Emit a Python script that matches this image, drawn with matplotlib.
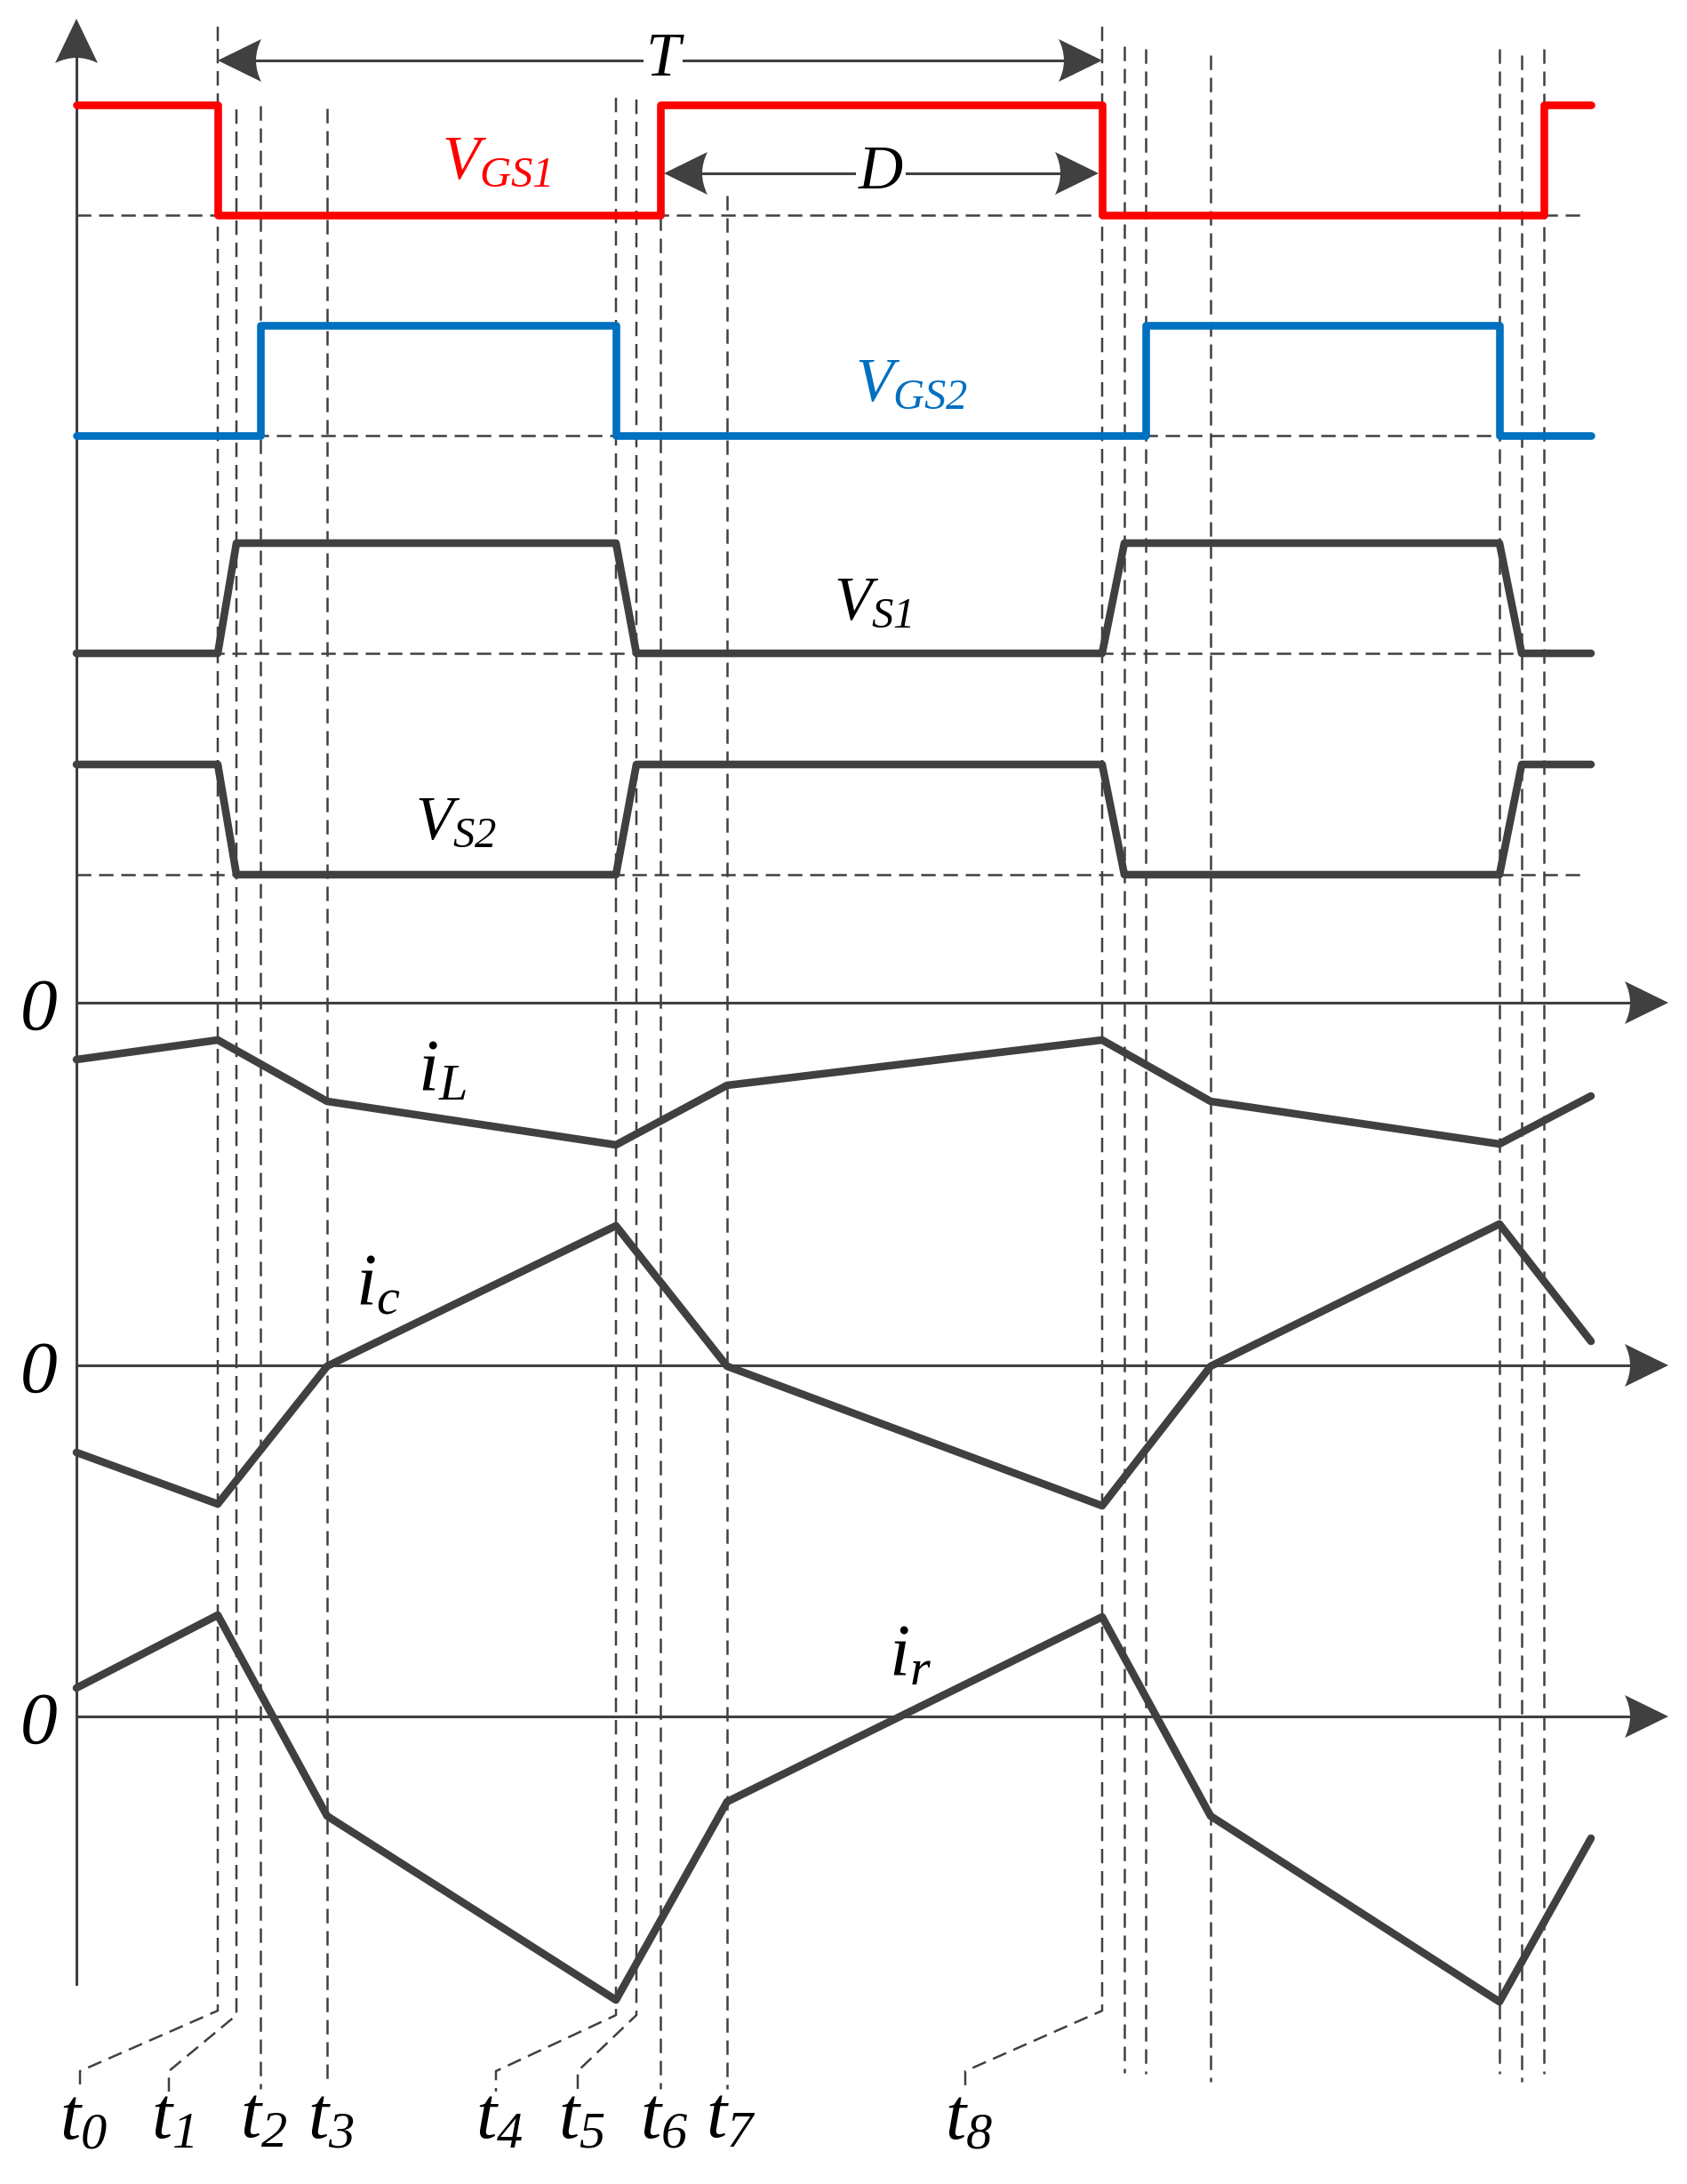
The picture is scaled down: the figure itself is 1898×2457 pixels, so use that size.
import numpy as np
import matplotlib.pyplot as plt
from matplotlib.path import Path
from matplotlib.patches import PathPatch

plt.rcParams['font.family'] = ['Liberation Serif', 'DejaVu Serif']
plt.rcParams['font.style'] = 'italic'
plt.rcParams['mathtext.fontset'] = 'custom'
plt.rcParams['mathtext.it'] = 'Liberation Serif:italic'
plt.rcParams['mathtext.rm'] = 'Liberation Serif:italic'

W, H = 1899, 2457
GREY = '#404040'
RED = '#ff0000'
BLUE = '#0070c0'

# time instants (x in pixel units), t0..t8 and the repeats in the next period
guide_x = [245, 266, 293, 368, 693, 716, 743, 818, 1240, 1265, 1289, 1362, 1687, 1712, 1737]
guide_top = [30, 123, 119, 122, 110, 112, 243, 220, 30, 52, 55, 62, 55, 62, 55]
guide_bottom = [2262, 2267, 2350, 2347, 2267, 2267, 2350, 2350, 2262, 2332, 2333, 2342, 2333, 2342, 2333]
# foot of leader for labels t0..t8 (first 9 guides)
label_x = [90, 190, 293, 368, 558, 650, 743, 818, 1086]
label_names = [r'$t_0$', r'$t_1$', r'$t_2$', r'$t_3$', r'$t_4$', r'$t_5$', r'$t_6$', r'$t_7$', r'$t_8$']

# gate / switch voltages
vgs1_x = [86, 245, 245, 743, 743, 1240, 1240, 1737, 1737, 1790]
vgs1_y = [118, 118, 242, 242, 118, 118, 242, 242, 118, 118]
vgs2_x = [86, 293, 293, 693, 693, 1289, 1289, 1687, 1687, 1790]
vgs2_y = [490, 490, 366, 366, 490, 490, 366, 366, 490, 490]
vs_x = [86, 245, 266, 693, 716, 1240, 1265, 1687, 1712, 1790]
vs1_y = [735, 735, 611, 611, 735, 735, 611, 611, 735, 735]
vs2_y = [860, 860, 984, 984, 860, 860, 984, 984, 860, 860]
base_levels = [242, 490, 735, 984]

# currents
i_x = [86, 245, 368, 693, 818, 1240, 1362, 1687, 1790]
il_y = [1192, 1170, 1239, 1288, 1221, 1170, 1239, 1287, 1233]
ic_y = [1634, 1692, 1537, 1379, 1537, 1694, 1537, 1377, 1509]
ir_y = [1899, 1817, 2043, 2250, 2027, 1819, 2043, 2252, 2068]
zero_levels = [1128, 1536, 1931]


def arrow_head(ax, tip, direction, length=49, half=24):
    tx, ty = tip
    dx, dy = direction
    px, py = -dy, dx
    bx, by = tx - dx * length, ty - dy * length
    verts = [(tx, ty), (bx + px * half, by + py * half),
             (tx - dx * (length - 12), ty - dy * (length - 12)),
             (bx - px * half, by - py * half), (tx, ty)]
    codes = [Path.MOVETO, Path.LINETO, Path.CURVE3, Path.CURVE3, Path.CLOSEPOLY]
    ax.add_patch(PathPatch(Path(verts, codes), facecolor=GREY, edgecolor='none', zorder=5))


fig = plt.figure(figsize=(W / 100, H / 100), dpi=100)
ax = fig.add_axes([0, 0, 1, 1])
ax.set_xlim(0, W)
ax.set_ylim(H, 0)
ax.axis('off')

dash = (0, (6.5, 3.5))

# vertical guides with label leaders
for k, (x, top, bot) in enumerate(zip(guide_x, guide_top, guide_bottom)):
    xs, ys = [x, x], [top, bot]
    if k < len(label_x) and label_x[k] != x:
        xs += [label_x[k], label_x[k]]
        ys += [2330, 2353]
    ax.plot(xs, ys, color=GREY, lw=1.8, ls=dash, zorder=1)

for k, name in enumerate(label_names):
    ax.text(label_x[k] + 4, 2405, name, fontsize=60, ha='center', va='baseline', color='black')

# dashed baselines
for y in base_levels:
    ax.plot([86, 1785], [y, y], color=GREY, lw=1.8, ls=dash, zorder=1)

# axes
ax.plot([86, 86], [60, 2232], color=GREY, lw=2.2, zorder=2)
arrow_head(ax, (86, 21), (0, -1), length=50)
for y in zero_levels:
    ax.plot([86, 1840], [y, y], color=GREY, lw=2.2, zorder=2)
    arrow_head(ax, (1877, y), (1, 0))
    ax.text(44, y + 30, '0', fontsize=60, ha='center', va='baseline', color='black')

# period and duty arrows
ax.plot([260, 1225], [68, 68], color=GREY, lw=2.2, zorder=2)
arrow_head(ax, (245, 68), (-1, 0))
arrow_head(ax, (1240, 68), (1, 0))
ax.text(746, 68, 'T', fontsize=50, ha='center', va='center', color='black', zorder=6,
        bbox=dict(facecolor='white', edgecolor='none', pad=2))
ax.plot([760, 1220], [195, 195], color=GREY, lw=2.2, zorder=2)
arrow_head(ax, (747, 195), (-1, 0))
arrow_head(ax, (1236, 195), (1, 0))
ax.text(991, 195, 'D', fontsize=50, ha='center', va='center', color='black', zorder=6,
        bbox=dict(facecolor='white', edgecolor='none', pad=2))

# waveforms
wkw = dict(lw=6.2, solid_capstyle='round', solid_joinstyle='round', zorder=3)
ax.plot(vgs1_x, vgs1_y, color=RED, **wkw)
ax.plot(vgs2_x, vgs2_y, color=BLUE, **wkw)
ax.plot(vs_x, vs1_y, color=GREY, **wkw)
ax.plot(vs_x, vs2_y, color=GREY, **wkw)
ax.plot(i_x, il_y, color=GREY, **wkw)
ax.plot(i_x, ic_y, color=GREY, **wkw)
ax.plot(i_x, ir_y, color=GREY, **wkw)

# signal names
ax.text(497, 200, r'$V_{GS1}$', fontsize=50, color=RED, ha='left', va='baseline')
ax.text(962, 450, r'$V_{GS2}$', fontsize=50, color=BLUE, ha='left', va='baseline')
ax.text(938, 696, r'$V_{S1}$', fontsize=50, color='black', ha='left', va='baseline')
ax.text(467, 943, r'$V_{S2}$', fontsize=50, color='black', ha='left', va='baseline')
ax.text(470, 1227, r'$i_L$', fontsize=60, color='black', ha='left', va='baseline')
ax.text(400, 1467, r'$i_c$', fontsize=60, color='black', ha='left', va='baseline')
ax.text(1000, 1885, r'$i_r$', fontsize=60, color='black', ha='left', va='baseline')

fig.savefig('out.png', dpi=100, facecolor='white')
